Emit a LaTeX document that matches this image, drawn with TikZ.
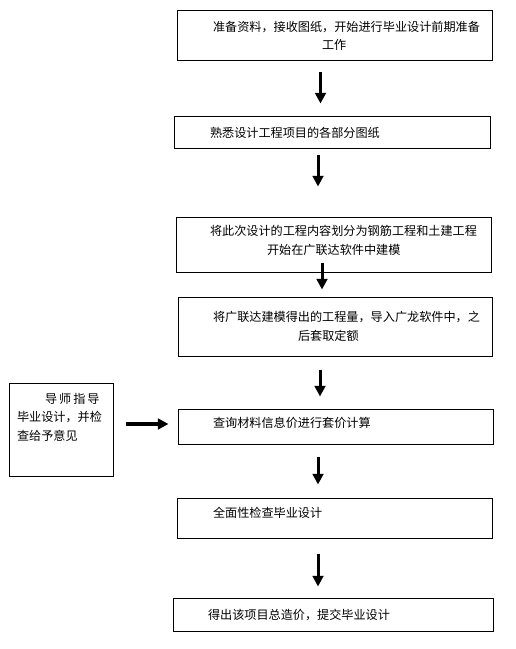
\documentclass[tikz,border=0pt]{standalone}
\usepackage{fontspec}
\newfontfamily\cjk{Noto Sans CJK SC}
\usetikzlibrary{arrows.meta}

\begin{document}
\begin{tikzpicture}[x=0.75pt, y=-0.75pt,
		box/.style={draw, line width=0.75pt, inner xsep=0pt, inner ysep=0pt, align=left, font=\cjk\fontsize{9.1}{14}\selectfont},
		flow/.style={line width=2.25pt, -{Triangle[width=8pt, length=8pt]}}]
		\useasboundingbox (0, 0) rectangle (516, 649);
		\node [box, text width=236.25pt, minimum height=37.5pt] (prep) at (334.5, 36) {\hspace*{27pt}准备资料，接收图纸，开始进行毕业设计前期准备\\\hspace*{108.75pt}工作};
		\node [box, text width=237pt, minimum height=24pt] (drawings) at (332, 133) {\hspace*{27pt}熟悉设计工程项目的各部分图纸};
		\node [box, text width=236.25pt, minimum height=41.25pt, text depth=21.4pt] (split) at (333.5, 244.5) {\hspace*{25.5pt}将此次设计的工程内容划分为钢筋工程和土建工程\\\hspace*{68.25pt}开始在广联达软件中建模};
		\node [box, text width=235.5pt, minimum height=44.25pt] (import) at (335, 326.5) {\hspace*{26.25pt}将广联达建模得出的工程量，导入广龙软件中，之\\\hspace*{90pt}后套取定额};
		\node [box, text width=236.25pt, minimum height=26.25pt, text depth=5.6pt] (price) at (335.5, 426.5) {\hspace*{26.25pt}查询材料信息价进行套价计算};
		\node [box, text width=236.25pt, minimum height=30pt, text depth=8.6pt] (check) at (334.5, 518) {\hspace*{27pt}全面性检查毕业设计};
		\node [box, text width=240pt, minimum height=24.75pt] (total) at (333, 614.5) {\hspace*{26.25pt}得出该项目总造价，提交毕业设计};
		\node [box, text width=78pt, minimum height=69.75pt] (tutor) at (61, 429.5) {\hspace*{27pt}导\,师\,指\,导\\\hspace*{6pt}毕业设计，并检\\\hspace*{6pt}查给予意见\\[5pt]\mbox{}};
		\draw [flow] ([shift={(-14, 11)}]prep.south) -- ([shift={(-11.5, -13)}]drawings.north);
		\draw [flow] ([shift={(-14, 6)}]drawings.south) -- ([shift={(-15.5, -30)}]split.north);
		\draw [flow] ([shift={(-11.5, -10)}]split.south) -- ([shift={(-13, -7)}]import.north);
		\draw [flow] ([shift={(-15, 13)}]import.south) -- ([shift={(-15.5, -12)}]price.north);
		\draw [flow] ([shift={(-17.5, 12)}]price.south) -- ([shift={(-16.5, -13)}]check.north);
		\draw [flow] ([shift={(-16.5, 15)}]check.south) -- ([shift={(-15, -11)}]total.north);
		\draw [flow, line width=3pt] ([shift={(12, -5.5)}]tutor.east) -- ([shift={(-9, -2.5)}]price.west);
	\end{tikzpicture}
\end{document}
